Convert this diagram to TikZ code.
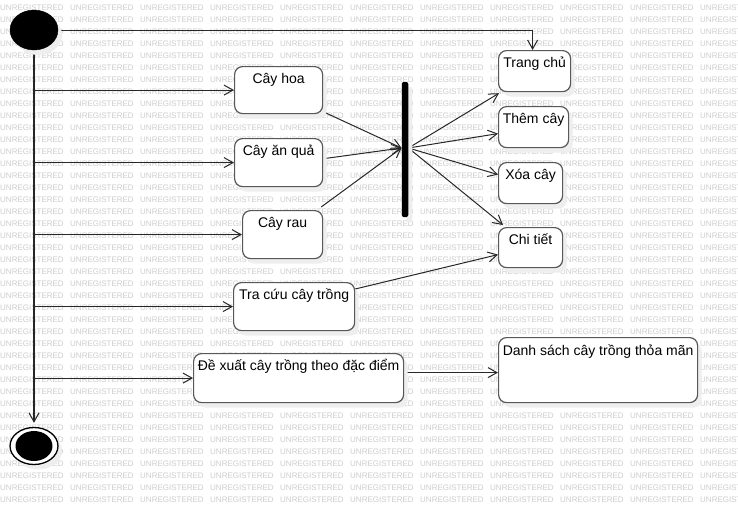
\documentclass[tikz,border=0pt]{standalone}
\usepackage{fontspec}
\setmainfont{Liberation Sans}
\usetikzlibrary{arrows.meta,shadows,shapes.geometric,backgrounds}
\definecolor{wmgray}{RGB}{205,205,205}
\definecolor{edgegray}{RGB}{88,88,88}
\definecolor{linegray}{RGB}{40,40,40}
\definecolor{shadowgray}{RGB}{238,238,238}

\begin{document}
\begin{tikzpicture}[x=1pt,y=-1pt,
  wm/.style={anchor=west,inner sep=0pt,text=wmgray,font=\fontsize{8}{8}\selectfont},
  shd/.style={general shadow={fill=shadowgray,shadow xshift=4pt,shadow yshift=-5pt}},
  act/.style={draw=edgegray,line width=1.2pt,fill=white,rounded corners=8pt,
    inner sep=0pt,anchor=north west,shd},
  lbl/.style={anchor=base,inner sep=0pt,font=\fontsize{14}{16}\selectfont},
  tip/.style={-{Straight Barb[length=9pt,width=10pt,line width=1pt]}},
  flow/.style={draw=linegray,line width=1pt,tip},
  trunk/.style={draw=black!85,line width=1.6pt,tip},
]
\useasboundingbox (0,0) rectangle (738,506);

% white page with the tiled watermark text behind everything
\begin{scope}[on background layer]
  \fill[white] (0,0) rectangle (738,506);
  \foreach \r in {0,...,41}
    \foreach \c in {0,...,10}
      \node[wm] (wm-\r-\c) at (70*\c, 8+12*\r) {UNREGISTERED};
\end{scope}

% initial and final states
\node[ellipse,draw=black,fill=black,minimum width=48pt,minimum height=40pt,
      inner sep=0pt,shd] (start) at (34,30) {};
\node[ellipse,draw=black,line width=1.3pt,fill=white,minimum width=48pt,
      minimum height=37pt,inner sep=0pt,shd] (stop) at (34,446) {};
\node[ellipse,fill=black,minimum width=37pt,minimum height=30pt,inner sep=0pt]
      (stop-in) at (stop.center) {};

% fork bar
\node[fill=black,rounded corners=2pt,minimum width=6.5pt,minimum height=135pt,
      inner sep=0pt,shd] (fork) at (405,149.5) {};

% activities on the left
\node[act,minimum width=88pt,minimum height=47pt]  (hoa)  at (234,66)  {};
\node[act,minimum width=88pt,minimum height=48pt]  (anq)  at (234,138) {};
\node[act,minimum width=80pt,minimum height=48pt]  (rau)  at (242,210) {};
\node[act,minimum width=121pt,minimum height=48pt] (tra)  at (233,282) {};
\node[act,minimum width=210pt,minimum height=49pt] (de)   at (193,353) {};
% activities on the right
\node[act,minimum width=72pt,minimum height=41pt]  (trang) at (498,50)  {};
\node[act,minimum width=70pt,minimum height=41pt]  (them)  at (498,106) {};
\node[act,minimum width=64pt,minimum height=41pt]  (xoa)   at (498,162) {};
\node[act,minimum width=64pt,minimum height=40pt]  (chi)   at (498,227) {};
\node[act,minimum width=199pt,minimum height=65pt] (ds)    at (498,337) {};

% activity names, set at the top of each box
\node[lbl] (hoa-t)   at ([yshift=-17pt]hoa.north)   {Cây hoa};
\node[lbl] (anq-t)   at ([yshift=-17pt]anq.north)   {Cây ăn quả};
\node[lbl] (rau-t)   at ([yshift=-17pt]rau.north)   {Cây rau};
\node[lbl] (tra-t)   at ([yshift=-17pt]tra.north)   {Tra cứu cây trồng};
\node[lbl] (de-t)    at ([yshift=-17pt]de.north)    {Đề xuất cây trồng theo đặc điểm};
\node[lbl] (trang-t) at ([yshift=-17pt]trang.north) {Trang chủ};
\node[lbl] (them-t)  at ([yshift=-17pt]them.north)  {Thêm cây};
\node[lbl] (xoa-t)   at ([yshift=-17pt]xoa.north)   {Xóa cây};
\node[lbl] (chi-t)   at ([yshift=-17pt]chi.north)   {Chi tiết};
\node[lbl] (ds-t)    at ([yshift=-18pt]ds.north)    {Danh sách cây trồng thỏa mãn};

% branch points on the main line
\coordinate (b1) at (start.south |- hoa.west);
\coordinate (b2) at (start.south |- anq.west);
\coordinate (b3) at (start.south |- rau.west);
\coordinate (b4) at (start.south |- tra.west);
\coordinate (b5) at (start.south |- de.west);
\coordinate (dsin) at ([yshift=-2.5pt]ds.west);

\begin{scope}[on background layer]
  \draw[trunk] (start.south) -- ([yshift=4pt]stop.north);
  \draw[flow] (start.east) -| ([xshift=-2pt]trang.north);
  \draw[flow] (b1) -- (hoa.west);
  \draw[flow] (b2) -- (anq.west);
  \draw[flow] (b3) -- (rau.west);
  \draw[flow] (b4) -- (tra.west);
  \draw[flow] (b5) -- (de.west);
  % into the fork
  \draw[flow] ([shift={(1pt,2pt)}]hoa.south east) -- ([yshift=1.5pt]fork.west);
  \draw[flow] ([shift={(1pt,4pt)}]anq.east) -- ([yshift=1.5pt]fork.west);
  \draw[flow] ([shift={(-2pt,3pt)}]rau.north east) -- ([yshift=1.5pt]fork.west);
  % out of the fork
  \draw[flow] ([yshift=1.5pt]fork.east) -- ([shift={(1pt,-1pt)}]trang.south west);
  \draw[flow] ([yshift=1.5pt]fork.east) -- ([yshift=-6.5pt]them.west);
  \draw[flow] ([yshift=1.5pt]fork.east) -- ([yshift=8.5pt]xoa.west);
  \draw[flow] ([yshift=1.5pt]fork.east) -- ([shift={(5pt,2pt)}]chi.north west);
  % other transitions
  \draw[flow] ([yshift=-7pt]tra.north east) -- ([yshift=-7pt]chi.west);
  \draw[flow] (de.east |- dsin) -- (dsin);
\end{scope}
\end{tikzpicture}
\end{document}
